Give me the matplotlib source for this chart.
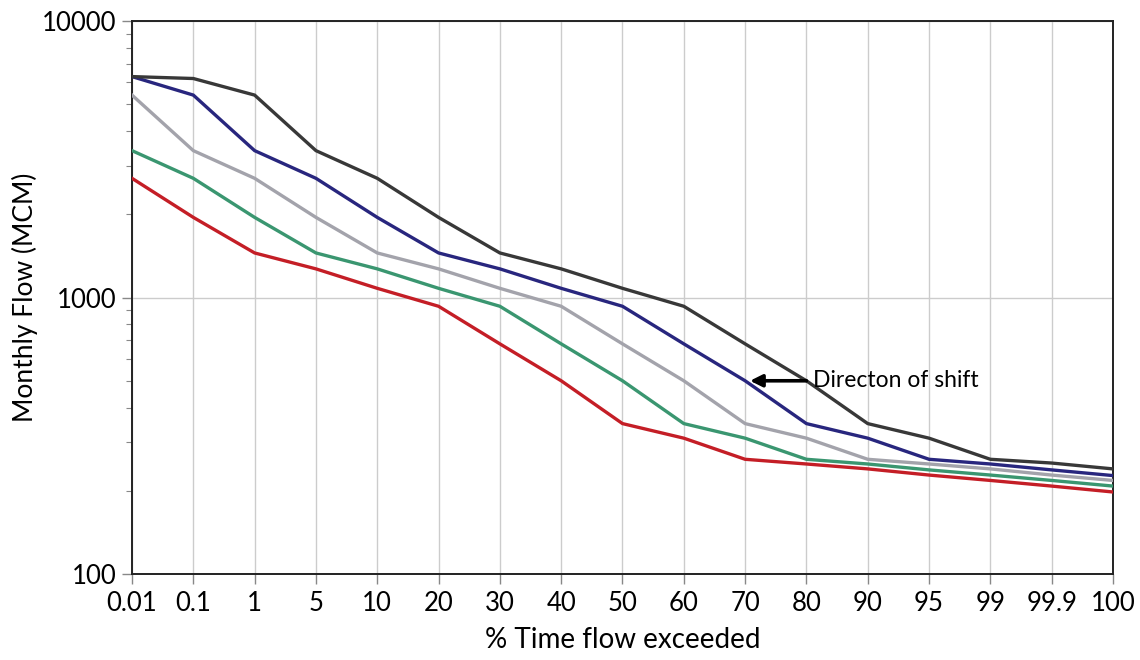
import numpy as np
from matplotlib import pyplot as plt
from matplotlib.ticker import LogLocator, NullFormatter, FixedLocator

# percent of time flow exceeded (evenly spaced categories on the chart)
pct_labels = ['0.01', '0.1', '1', '5', '10', '20', '30', '40', '50',
              '60', '70', '80', '90', '95', '99', '99.9', '100']

# monthly flow, MCM
flow_black = [6300, 6200, 5400, 3400, 2700, 1950, 1450, 1270, 1080,
              930, 680, 500, 350, 310, 260, 252, 240]
flow_blue = [6300, 5400, 3400, 2700, 1950, 1450, 1270, 1080, 930,
             680, 500, 350, 310, 260, 250, 238, 227]
flow_gray = [5400, 3400, 2700, 1950, 1450, 1270, 1080, 930, 680,
             500, 350, 310, 260, 250, 240, 228, 218]
flow_green = [3400, 2700, 1950, 1450, 1270, 1080, 930, 680, 500,
              350, 310, 260, 250, 238, 228, 218, 208]
flow_red = [2700, 1950, 1450, 1270, 1080, 930, 680, 500, 350,
            310, 260, 250, 240, 228, 218, 208, 198]

plt.rcParams['font.family'] = ['Lato', 'DejaVu Sans']

fig = plt.figure(figsize=(11.4, 6.6), dpi=100)
ax = fig.add_axes([0.1158, 0.1303, 0.8605, 0.8377])

x = np.arange(len(pct_labels))
series = [
    (flow_red, '#c41e26'),
    (flow_green, '#3a9670'),
    (flow_gray, '#a3a3ab'),
    (flow_blue, '#28267e'),
    (flow_black, '#383838'),
]
for vals, col in series:
    ax.plot(x, vals, color=col, lw=2.4, solid_joinstyle='miter', zorder=3)

ax.set_yscale('log')
ax.set_ylim(100, 10000)
ax.set_xlim(0, len(pct_labels) - 1)
ax.xaxis.set_major_locator(FixedLocator(x))
ax.set_xticklabels(pct_labels)
ax.yaxis.set_minor_locator(LogLocator(base=10, subs=np.arange(2, 10)))
ax.yaxis.set_minor_formatter(NullFormatter())
ax.set_yticks([100, 1000, 10000])
ax.set_yticklabels(['100', '1000', '10000'])

ax.grid(True, which='major', axis='both', color='#cccccc', lw=1.0, zorder=0)
ax.tick_params(axis='both', which='major', labelsize=18.5, length=7, width=1,
               color='#888888', direction='out')
ax.tick_params(axis='y', which='minor', length=4, width=0.8, color='#888888')
ax.tick_params(axis='x', pad=5)
ax.tick_params(axis='y', pad=4)
for s in ax.spines.values():
    s.set_color('#222222')
    s.set_linewidth(1.4)

ax.set_xlabel('% Time flow exceeded', fontsize=20, labelpad=8)
ax.set_ylabel('Monthly Flow (MCM)', fontsize=19, labelpad=3)

# arrow pointing toward the shift direction
ax.annotate('', xy=(10.08, 500), xytext=(11.0, 500),
            arrowprops=dict(arrowstyle='-|>', color='black', lw=2.6,
                            mutation_scale=18, shrinkA=0, shrinkB=0),
            zorder=5)
ax.text(11.1, 500, 'Directon of shift', fontsize=16.5, va='center', ha='left',
        zorder=5)

fig.savefig('out.png', dpi=100)
